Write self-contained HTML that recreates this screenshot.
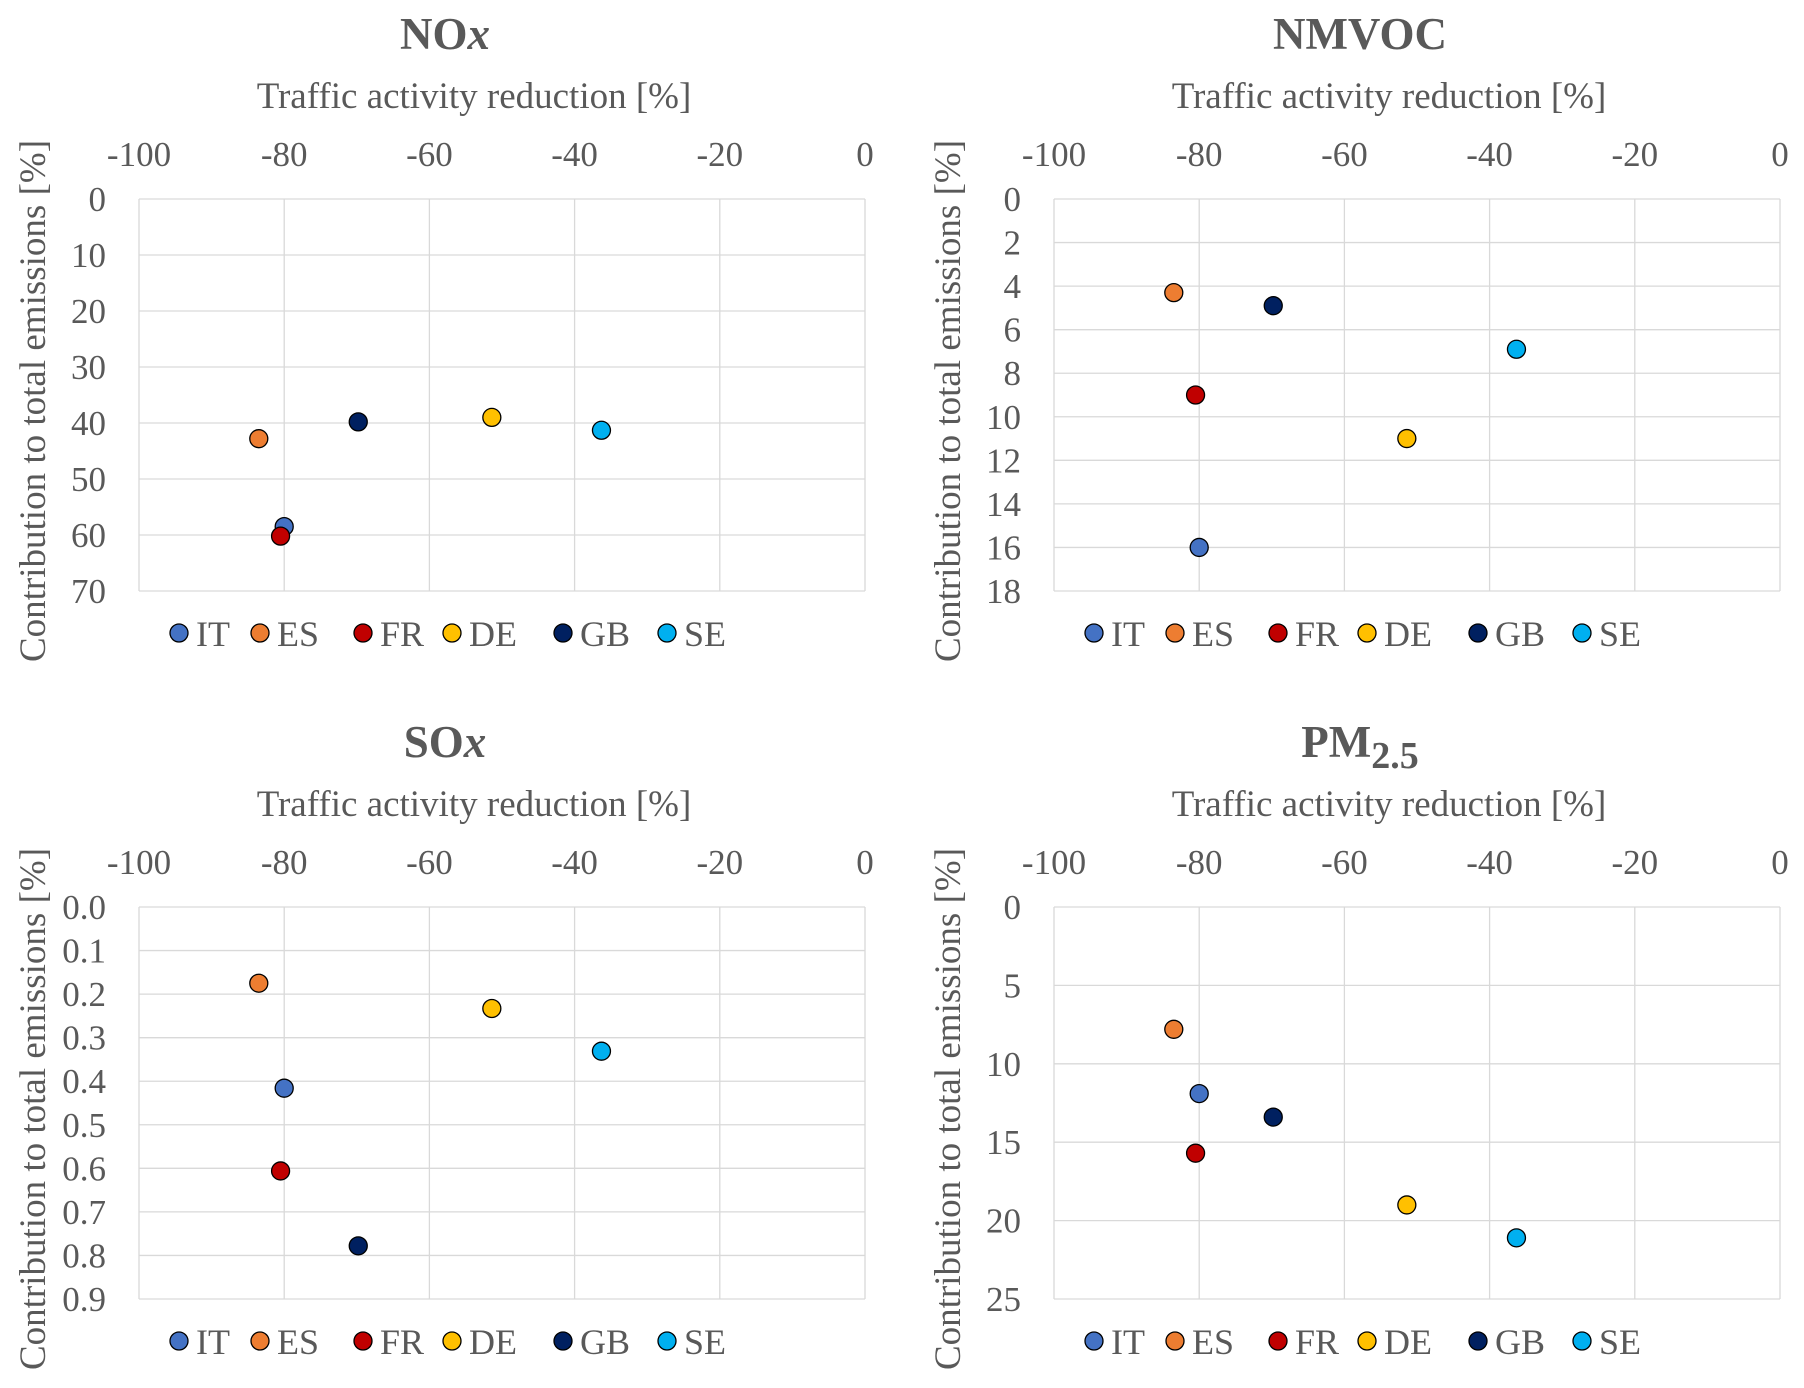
<!DOCTYPE html>
<html><head><meta charset="utf-8"><style>
html,body{margin:0;padding:0;background:#fff;}
svg{display:block;font-family:"Liberation Serif",serif;}
</style></head><body>
<svg id="c" width="1804" height="1388" viewBox="0 0 1804 1388"></svg>
<script>
const countries=["IT","ES","FR","DE","GB","SE"];
const colors=["#4472C4","#ED7D31","#C00000","#FFC000","#002060","#00B0F0"];
const xValues=[-80.0,-83.5,-80.5,-51.4,-69.8,-36.3];
const noxValues=[58.5,42.8,60.2,39.0,39.8,41.3];
const nmvocValues=[16.0,4.3,9.0,11.0,4.9,6.9];
const soxValues=[0.416,0.175,0.606,0.233,0.778,0.331];
const pmValues=[11.9,7.8,15.7,19.0,13.4,21.1];
const xTicks=[-100,-80,-60,-40,-20,0];
const noxTicks=[0,10,20,30,40,50,60,70];
const nmvocTicks=[0,2,4,6,8,10,12,14,16,18];
const soxTicks=["0.0","0.1","0.2","0.3","0.4","0.5","0.6","0.7","0.8","0.9"];
const pmTicks=[0,5,10,15,20,25];

const NS="http://www.w3.org/2000/svg";
const svg=document.getElementById('c');
function mk(tag,attrs,parent,text){const e=document.createElementNS(NS,tag);for(const k in attrs)e.setAttribute(k,attrs[k]);if(text!==undefined)e.textContent=text;(parent||svg).appendChild(e);return e;}

const panels=[
 {name:"nox",title:"NO",sub:"x",subItalic:true,vals:noxValues,ticks:noxTicks,ox:0,oy:0},
 {name:"nmvoc",title:"NMVOC",sub:"",vals:nmvocValues,ticks:nmvocTicks,ox:915,oy:0},
 {name:"sox",title:"SO",sub:"x",subItalic:true,vals:soxValues,ticks:soxTicks,ox:0,oy:708},
 {name:"pm25",title:"PM",sub:"2.5",subItalic:false,vals:pmValues,ticks:pmTicks,ox:915,oy:708}
];
panels.forEach(p=>{
  const g=mk('g',{transform:`translate(${p.ox},${p.oy})`});
  
  
  const L=139,R=865,T=199,B=591;
  const yMin=parseFloat(p.ticks[0]),yMax=parseFloat(p.ticks[p.ticks.length-1]);
  const sx=v=>L+(v+100)/100*(R-L);
  const sy=v=>T+(v-yMin)/(yMax-yMin)*(B-T);
  const t=mk('text',{x:445,y:49,'text-anchor':'middle','font-size':45,'font-weight':'bold',fill:'#595959'},g);
  
  
  mk('tspan',{},t,p.title);
  if(p.sub){mk('tspan',{dy:p.subItalic?0:11,'font-style':p.subItalic?'italic':'normal','font-size':p.subItalic?45:38},t,p.sub);}
  const xt=mk('text',{x:474,y:108,'text-anchor':'middle','font-size':37,fill:'#595959'},g,'Traffic activity reduction [%]');
  
  
  const yt=mk('text',{transform:'translate(45,401) rotate(-90)','text-anchor':'middle','font-size':37,fill:'#595959'},g,'Contribution to total emissions [%]');
  
  
  xTicks.forEach(v=>{
    const l=mk('line',{x1:sx(v),x2:sx(v),y1:T,y2:B,stroke:'#d9d9d9','stroke-width':1.3},g);
    
    
    const tl=mk('text',{x:sx(v),y:166,'text-anchor':'middle','font-size':35,fill:'#595959'},g,v);
    
    
  });
  p.ticks.forEach(v=>{
    const y=sy(parseFloat(v));
    const l=mk('line',{x1:L,x2:R,y1:y,y2:y,stroke:'#d9d9d9','stroke-width':1.3},g);
    
    
    const tl=mk('text',{x:106,y:y+12,'text-anchor':'end','font-size':35,fill:'#595959'},g,v);
    
    
  });
  countries.forEach((c,i)=>{
    const pt=mk('circle',{cx:sx(xValues[i]),cy:sy(p.vals[i]),r:9,fill:colors[i],stroke:'#000','stroke-width':1.3},g);
    
    
  });
  const lx=[179,260,363,452,563,667];
  countries.forEach((c,i)=>{
    const lg=mk('g',{},g);
    
    
    mk('circle',{cx:lx[i],cy:633,r:9,fill:colors[i],stroke:'#000','stroke-width':1.3},lg);
    mk('text',{x:lx[i]+17,y:646,'font-size':36,fill:'#595959'},lg,c);
  });
});
</script>
</body></html>
